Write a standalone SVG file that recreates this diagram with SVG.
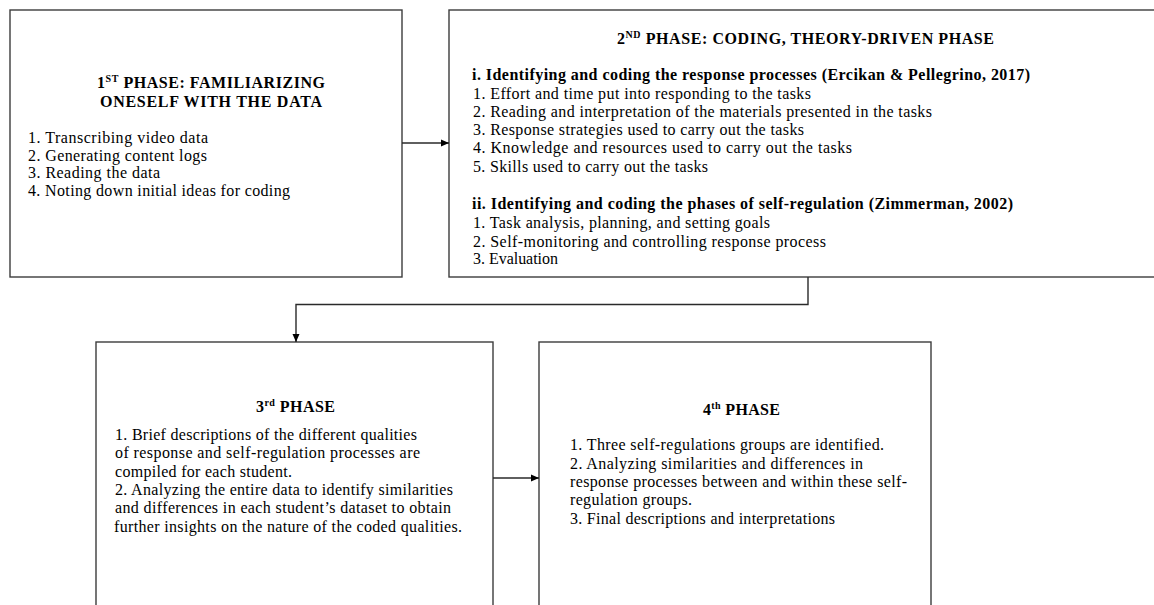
<svg xmlns="http://www.w3.org/2000/svg" width="1154" height="605" viewBox="0 0 1154 605">
<style>
text{font-family:'Liberation Serif','Times New Roman',Tinos,'Nimbus Roman','Nimbus Roman No9 L',Times,serif;font-size:16px;fill:#000}
.b{font-weight:bold}
.box{fill:#fff;stroke:#3c3c3c;stroke-width:1.4}
.con{fill:none;stroke:#2a2a2a;stroke-width:1.4}
</style>
<defs>
<marker id="ah" markerWidth="8" markerHeight="8" refX="8" refY="4" orient="auto" markerUnits="userSpaceOnUse">
<path d="M0,0.5 L8,4 L0,7.5 Z" fill="#000"/>
</marker>
</defs>
<rect width="1154" height="605" fill="#fff"/>

<g id="phase1" font-family="Liberation Serif, Times New Roman, serif">
<rect class="box" x="10" y="10" width="392" height="267"/>
<text class="b" x="97" y="88" textLength="228" lengthAdjust="spacing">1<tspan font-size="10" dy="-6">ST</tspan><tspan dy="6"> PHASE:  FAMILIARIZING</tspan></text>
<text class="b" x="100" y="107" textLength="222" lengthAdjust="spacing">ONESELF WITH THE DATA</text>
<text x="28" y="143" textLength="180" lengthAdjust="spacing">1. Transcribing  video  data</text>
<text x="28" y="160.5" textLength="179" lengthAdjust="spacing">2. Generating  content  logs</text>
<text x="28" y="178" textLength="132" lengthAdjust="spacing">3. Reading  the  data</text>
<text x="28" y="195.5" textLength="262" lengthAdjust="spacing">4. Noting  down  initial  ideas for coding</text>
</g>

<g id="phase2" font-family="Liberation Serif, Times New Roman, serif">
<rect class="box" x="449" y="10" width="720" height="267"/>
<text class="b" x="617" y="44" textLength="377" lengthAdjust="spacing">2<tspan font-size="10" dy="-6">ND</tspan><tspan dy="6"> PHASE:  CODING, THEORY-DRIVEN  PHASE</tspan></text>
<text class="b" x="472" y="80" textLength="558" lengthAdjust="spacing">i. Identifying  and  coding  the response processes (Ercikan &amp; Pellegrino, 2017)</text>
<text x="473" y="99" textLength="338" lengthAdjust="spacing">1. Effort  and time  put into responding  to the tasks</text>
<text x="473" y="117" textLength="459" lengthAdjust="spacing">2. Reading  and interpretation  of the materials  presented  in the tasks</text>
<text x="473" y="135" textLength="331" lengthAdjust="spacing">3. Response  strategies  used to carry  out the tasks</text>
<text x="473" y="153" textLength="379" lengthAdjust="spacing">4.  Knowledge  and resources used to carry  out the tasks</text>
<text x="473" y="172" textLength="235" lengthAdjust="spacing">5. Skills  used to carry  out the tasks</text>
<text class="b" x="472" y="209" textLength="541" lengthAdjust="spacing">ii. Identifying  and  coding  the  phases of self-regulation  (Zimmerman,  2002)</text>
<text x="473" y="228" textLength="297" lengthAdjust="spacing">1. Task analysis,  planning,  and setting  goals</text>
<text x="473" y="247" textLength="353" lengthAdjust="spacing">2. Self-monitoring  and  controlling  response process</text>
<text x="473" y="264" textLength="85" lengthAdjust="spacing">3. Evaluation</text>
</g>

<g id="phase3" font-family="Liberation Serif, Times New Roman, serif">
<rect class="box" x="96" y="342" width="397" height="290"/>
<text class="b" x="256" y="412" textLength="79" lengthAdjust="spacing">3<tspan font-size="10" dy="-6">rd</tspan><tspan dy="6"> PHASE</tspan></text>
<text x="115" y="440" textLength="302" lengthAdjust="spacing">1. Brief  descriptions  of the different  qualities</text>
<text x="115" y="458" textLength="305" lengthAdjust="spacing">of response and self-regulation  processes are</text>
<text x="115" y="477" textLength="177" lengthAdjust="spacing">compiled  for each student.</text>
<text x="115" y="495" textLength="338" lengthAdjust="spacing">2. Analyzing  the entire  data to identify  similarities</text>
<text x="115" y="513" textLength="336" lengthAdjust="spacing">and differences  in  each student’s  dataset to obtain</text>
<text x="114" y="532" textLength="348" lengthAdjust="spacing">further  insights  on the nature  of the coded qualities.</text>
</g>

<g id="phase4" font-family="Liberation Serif, Times New Roman, serif">
<rect class="box" x="539" y="342" width="392" height="290"/>
<text class="b" x="703" y="415" textLength="77" lengthAdjust="spacing">4<tspan font-size="10" dy="-6">th</tspan><tspan dy="6"> PHASE</tspan></text>
<text x="570" y="450" textLength="314" lengthAdjust="spacing">1. Three  self-regulations  groups  are identified.</text>
<text x="570" y="469" textLength="293" lengthAdjust="spacing">2. Analyzing  similarities  and  differences  in</text>
<text x="570" y="487" textLength="337" lengthAdjust="spacing">response processes between  and within  these self-</text>
<text x="570" y="505" textLength="122" lengthAdjust="spacing">regulation  groups.</text>
<text x="570" y="524" textLength="265" lengthAdjust="spacing">3. Final  descriptions  and interpretations</text>
</g>

<g id="connectors">
<line class="con" x1="402" y1="143" x2="449" y2="143" marker-end="url(#ah)"/>
<polyline class="con" points="808,277 808,304.5 296,304.5 296,342" marker-end="url(#ah)"/>
<line class="con" x1="493" y1="478" x2="539" y2="478" marker-end="url(#ah)"/>
</g>
</svg>
